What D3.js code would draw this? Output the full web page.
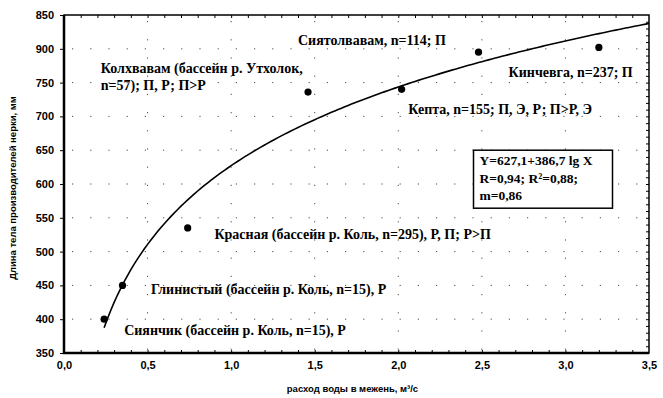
<!DOCTYPE html>
<html>
<head>
<meta charset="utf-8">
<script src="https://cdn.jsdelivr.net/npm/d3@7"></script>
<style>
  body { margin: 0; background: #fff; }
  svg text { fill: #000; }
  .tick-lbl { font-family: "Liberation Sans", Arial, sans-serif; font-weight: bold; font-size: 11px; }
  .note { font-family: "Liberation Serif", "Times New Roman", serif; font-weight: bold; font-size: 14px; }
  .eq { font-family: "Liberation Serif", "Times New Roman", serif; font-weight: bold; font-size: 13.5px; }
  .ttl { font-family: "Liberation Sans", Arial, sans-serif; font-weight: bold; font-size: 9.5px; }
</style>
</head>
<body>
<svg id="chart" width="663" height="398"></svg>
<script>
// points: river, mean discharge (m3/s), mean length (mm)
const rivers = ["Сиянчик", "Глинистый", "Красная", "Колхвавам", "Кепта", "Сиятолвавам", "Кинчевга"];
const discharge = [0.24, 0.35, 0.74, 1.46, 2.02, 2.48, 3.2];
const bodyLength = [400, 450, 535, 736, 740, 795, 802];

// annotation texts (one per river, in the same order)
const labels = [
  ["Сиянчик (бассейн р. Коль, n=15), Р"],
  ["Глинистый (бассейн р. Коль, n=15), Р"],
  ["Красная (бассейн р. Коль, n=295), Р, П; Р>П"],
  ["Колхвавам (бассейн р. Утхолок,", "n=57); П, Р; П>Р"],
  ["Кепта, n=155; П, Э, Р; П>Р, Э"],
  ["Сиятолвавам, n=114; П"],
  ["Кинчевга, n=237; П"]
];
// where each annotation sits, in data units (x, y)
const labelX = [0.36, 0.52, 0.9, 0.22, 2.06, 1.4, 2.66];
const labelY = [377, 438, 518, 764, 703, 806, 758];

// regression Y = a + b lg X
const fitA = 627.1;
const fitB = 386.7;
const fitFrom = 0.24;
const fitTo = 3.5;
const fitText = ["Y=627,1+386,7 lg X", "R=0,94; R²=0,88;", "m=0,86"];

const xTicks = [0, 0.5, 1, 1.5, 2, 2.5, 3, 3.5];
const xTickLabels = ["0,0", "0,5", "1,0", "1,5", "2,0", "2,5", "3,0", "3,5"];
const yTicks = [350, 400, 450, 500, 550, 600, 650, 700, 750, 800, 850];
const yTickLabels = ["350", "400", "450", "500", "550", "600", "650", "700", "750", "900", "850"];

const xTitle = "расход воды в межень, м³/с";
const yTitle = "Длина тела производителей нерки, мм";

const svg = d3.select("#chart");
const pL = 64, pR = 649, pT = 15, pB = 353;

const x = d3.scaleLinear().domain([0, 3.5]).range([pL, pR]);
const y = d3.scaleLinear().domain([350, 850]).range([pB, pT]);

// sparse dotted grid
const grid = svg.append("g")
  .attr("stroke", "#000")
  .attr("stroke-width", 1)
  .attr("stroke-dasharray", "1.2,17")
  .attr("opacity", 0.7);
grid.selectAll(".gy").data(yTicks.slice(1, -1)).enter().append("line")
  .attr("x1", pL + 8).attr("x2", pR)
  .attr("y1", d => y(d)).attr("y2", d => y(d));
grid.selectAll(".gx").data(xTicks.slice(1, -1)).enter().append("line")
  .attr("y1", pT + 6).attr("y2", pB)
  .attr("x1", d => x(d)).attr("x2", d => x(d));

// minor ticks along the frame
const minorX = d3.range(1, 35).map(d => d / 10);
const minorY = d3.range(360, 850, 10);

svg.append("g").attr("transform", `translate(0,${pB})`)
  .call(d3.axisBottom(x).tickValues(minorX).tickSize(-3).tickFormat(""))
  .call(g => g.select(".domain").remove());
svg.append("g").attr("transform", `translate(0,${pT})`)
  .call(d3.axisTop(x).tickValues(minorX).tickSize(-3).tickFormat(""))
  .call(g => g.select(".domain").remove());
svg.append("g").attr("transform", `translate(${pR},0)`)
  .call(d3.axisRight(y).tickValues(minorY).tickSize(-3).tickFormat(""))
  .call(g => g.select(".domain").remove());

// main axes
const yAxis = svg.append("g").attr("transform", `translate(${pL},0)`)
  .call(d3.axisLeft(y).tickValues(yTicks).tickSize(4).tickPadding(6)
    .tickFormat((d, i) => yTickLabels[i]));
yAxis.select(".domain").remove();
yAxis.selectAll("text").attr("class", "tick-lbl");

const xAxis = svg.append("g").attr("transform", `translate(0,${pB})`)
  .call(d3.axisBottom(x).tickValues(xTicks).tickSize(0).tickPadding(8)
    .tickFormat((d, i) => xTickLabels[i]));
xAxis.select(".domain").remove();
xAxis.selectAll("text").attr("class", "tick-lbl");

// frame
svg.append("rect")
  .attr("x", pL).attr("y", pT)
  .attr("width", pR - pL).attr("height", pB - pT)
  .attr("fill", "none").attr("stroke", "#000").attr("stroke-width", 1.5);
svg.append("path")
  .attr("d", `M${pL},${pT}V${pB}H${pR}`)
  .attr("fill", "none").attr("stroke", "#000").attr("stroke-width", 2.5);

// fitted curve
const fitX = d3.range(fitFrom, fitTo + 0.001, 0.02);
const line = d3.line().x(d => x(d)).y(d => y(fitA + fitB * Math.log10(d)));
svg.append("path")
  .datum(fitX)
  .attr("d", line)
  .attr("fill", "none").attr("stroke", "#000").attr("stroke-width", 1.6);

// points
svg.selectAll(".pt").data(discharge).enter().append("circle")
  .attr("cx", d => x(d))
  .attr("cy", (d, i) => y(bodyLength[i]))
  .attr("r", 3.6)
  .attr("fill", "#000");

// annotations
svg.selectAll(".note").data(rivers).enter().append("text")
  .attr("class", "note")
  .attr("x", (d, i) => x(labelX[i]))
  .attr("y", (d, i) => y(labelY[i]))
  .each(function(d, i) {
    d3.select(this).selectAll("tspan").data(labels[i]).enter().append("tspan")
      .attr("x", x(labelX[i]))
      .attr("dy", (t, j) => j === 0 ? 0 : 17)
      .text(t => t);
  });

// equation box
const bx = x(2.45), by = y(650);
svg.append("rect")
  .attr("x", bx).attr("y", by)
  .attr("width", 139).attr("height", 58)
  .attr("fill", "#fff").attr("stroke", "#000").attr("stroke-width", 1.5);
svg.append("text").attr("class", "eq")
  .selectAll("tspan").data(fitText).enter().append("tspan")
  .attr("x", bx + 6)
  .attr("y", (d, i) => by + 15 + i * 17.5)
  .text(d => d);

// axis titles
svg.append("text").attr("class", "ttl")
  .attr("text-anchor", "middle")
  .attr("x", (pL + pR) / 2 - 4).attr("y", 392)
  .text(xTitle);
svg.append("text").attr("class", "ttl")
  .attr("text-anchor", "middle")
  .attr("transform", `translate(16,${(pT + pB) / 2 + 4}) rotate(-90)`)
  .text(yTitle);
</script>
</body>
</html>
